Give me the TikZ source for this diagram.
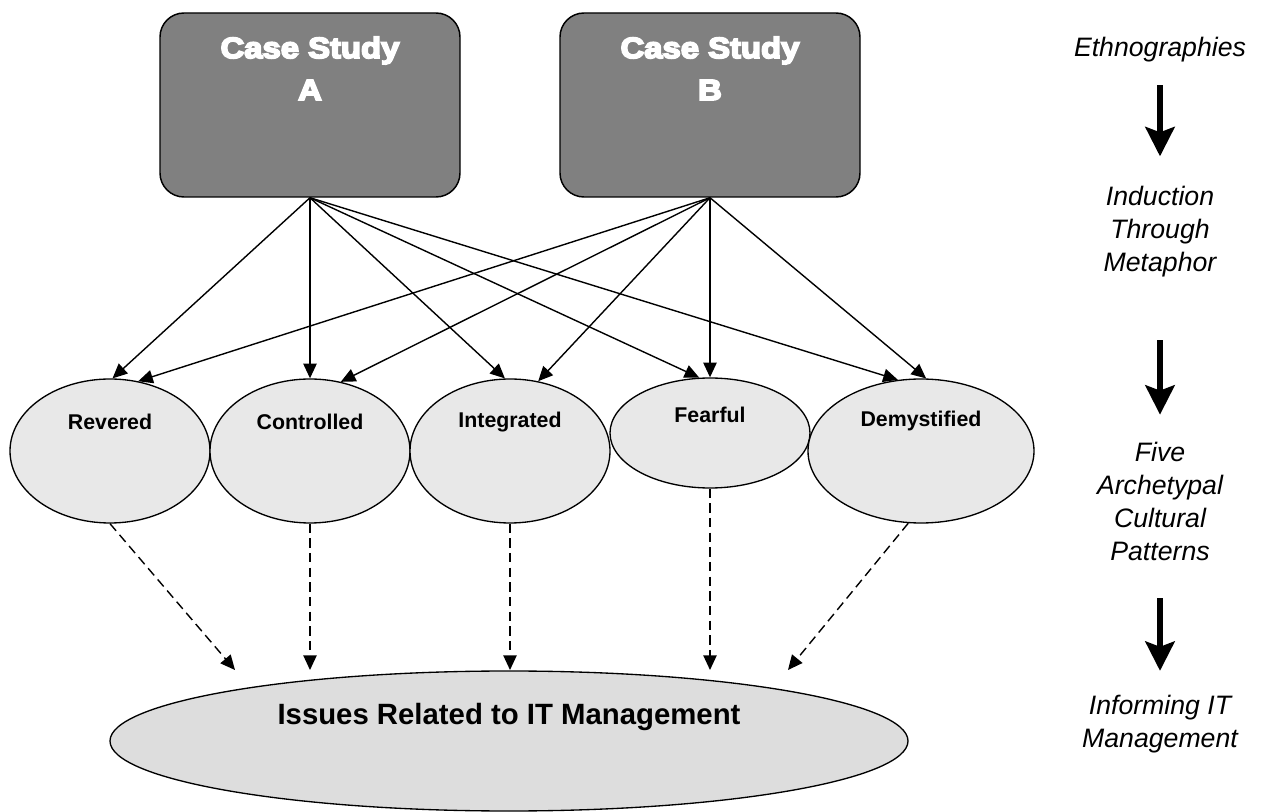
\documentclass[tikz,border=0pt]{standalone}
\usepackage{fontspec}
\setmainfont{Liberation Sans}
\newfontfamily\blackfont[FakeBold=6,FakeStretch=1.12]{Liberation Sans Bold}
\usetikzlibrary{arrows.meta,shapes.geometric,calc}
\definecolor{boxgray}{HTML}{808080}
\definecolor{ellgray}{HTML}{E8E8E8}
\definecolor{biggray}{HTML}{DDDDDD}
\begin{document}
\begin{tikzpicture}[x=0.75pt,y=-0.75pt,
  box/.style={draw=black, line width=1.1pt, fill=boxgray, rounded corners=18pt,
    minimum width=225pt, minimum height=138pt, inner sep=0pt},
  casetext/.style={text=white, font=\blackfont\fontsize{22}{31.5}\selectfont, align=center},
  ell/.style={ellipse, draw=black, line width=1pt, fill=ellgray, inner sep=0pt},
  lbl/.style={font=\bfseries\fontsize{16}{19}\selectfont},
  conn/.style={-{Triangle[length=11pt,width=10pt]}, line width=1.05pt},
  dconn/.style={conn, dash pattern=on 7pt off 4pt},
  side/.style={font=\itshape\fontsize{20}{24.75}\selectfont, align=center, inner sep=0pt},
  flow/.style={-{Stealth[length=22pt,width=22pt,inset=4pt]}, line width=4pt}
]
\useasboundingbox (0,0) rectangle (1268,812);

% case study boxes
\node[box, label={[casetext, yshift=27.4pt]center:{Case Study\\A}}] (A) at (310,105) {};
\node[box, label={[casetext, yshift=27.4pt]center:{Case Study\\B}}] (B) at (710,105) {};

% five patterns
\node[ell, minimum width=150pt, minimum height=108pt,
  label={[lbl, yshift=21.75pt]center:Revered}] (rev) at (110,451) {};
\node[ell, minimum width=150pt, minimum height=108pt,
  label={[lbl, yshift=21.75pt]center:Controlled}] (ctl) at (310,451) {};
\node[ell, minimum width=150pt, minimum height=108pt,
  label={[lbl, yshift=21.75pt]center:Integrated}] (int) at (510,451) {};
\node[ell, minimum width=150pt, minimum height=82.5pt,
  label={[lbl, yshift=13.5pt]center:Fearful}] (fear) at (710,433) {};
\node[ell, minimum width=169.5pt, minimum height=108pt,
  label={[lbl, yshift=22.5pt]center:Demystified}] (dem) at (921,451) {};

% issues
\node[ell, fill=biggray, minimum width=598.5pt, minimum height=105pt,
  label={[font=\bfseries\fontsize{22}{26}\selectfont, yshift=18pt]center:Issues Related to IT Management}] (iss) at (509,741) {};

% connectors from case study A
\draw[conn] (A.south) -- (rev.88.4);
\draw[conn] (A.south) -- (ctl.90);
\draw[conn] (A.south) -- (int.94);
\draw[conn] (A.south) -- (fear.101.4);
\draw[conn] (A.south) -- (dem.108.1);
% connectors from case study B
\draw[conn] (B.south) -- (rev.68.7);
\draw[conn] (B.south) -- (ctl.66.4);
\draw[conn] (B.south) -- (int.68.7);
\draw[conn] (B.south) -- (fear.90);
\draw[conn] (B.south) -- (dem.86);

% dashed connectors to issues
\coordinate (t1) at (235,670);
\coordinate (t2) at (310,670);
\coordinate (t3) at (510,670);
\coordinate (t4) at (710,670);
\coordinate (t5) at (788,670);
\draw[dconn] (rev.270) -- (t1);
\draw[dconn] (ctl.270) -- (t2);
\draw[dconn] (int.270) -- (t3);
\draw[dconn] (fear.270) -- (t4);
\draw[dconn] (dem.260) -- (t5);

% right column
\node[side] (eth) at (1160,50) {Ethnographies};
\node[side] (ind) at (1160,232) {Induction\\Through\\Metaphor};
\node[side] (five) at (1160,501.5) {Five\\Archetypal\\Cultural\\Patterns};
\node[side] (inf) at (1160,724) {Informing IT\\Management};
\draw[flow] ([yshift=-17pt]eth.south) -- ([yshift=22.5pt]ind.north);
\draw[flow] ([yshift=-47pt]ind.south) -- ([yshift=20.5pt]five.north);
\draw[flow] ([yshift=-27.8pt]five.south) -- ([yshift=18pt]inf.north);
\end{tikzpicture}
\end{document}
